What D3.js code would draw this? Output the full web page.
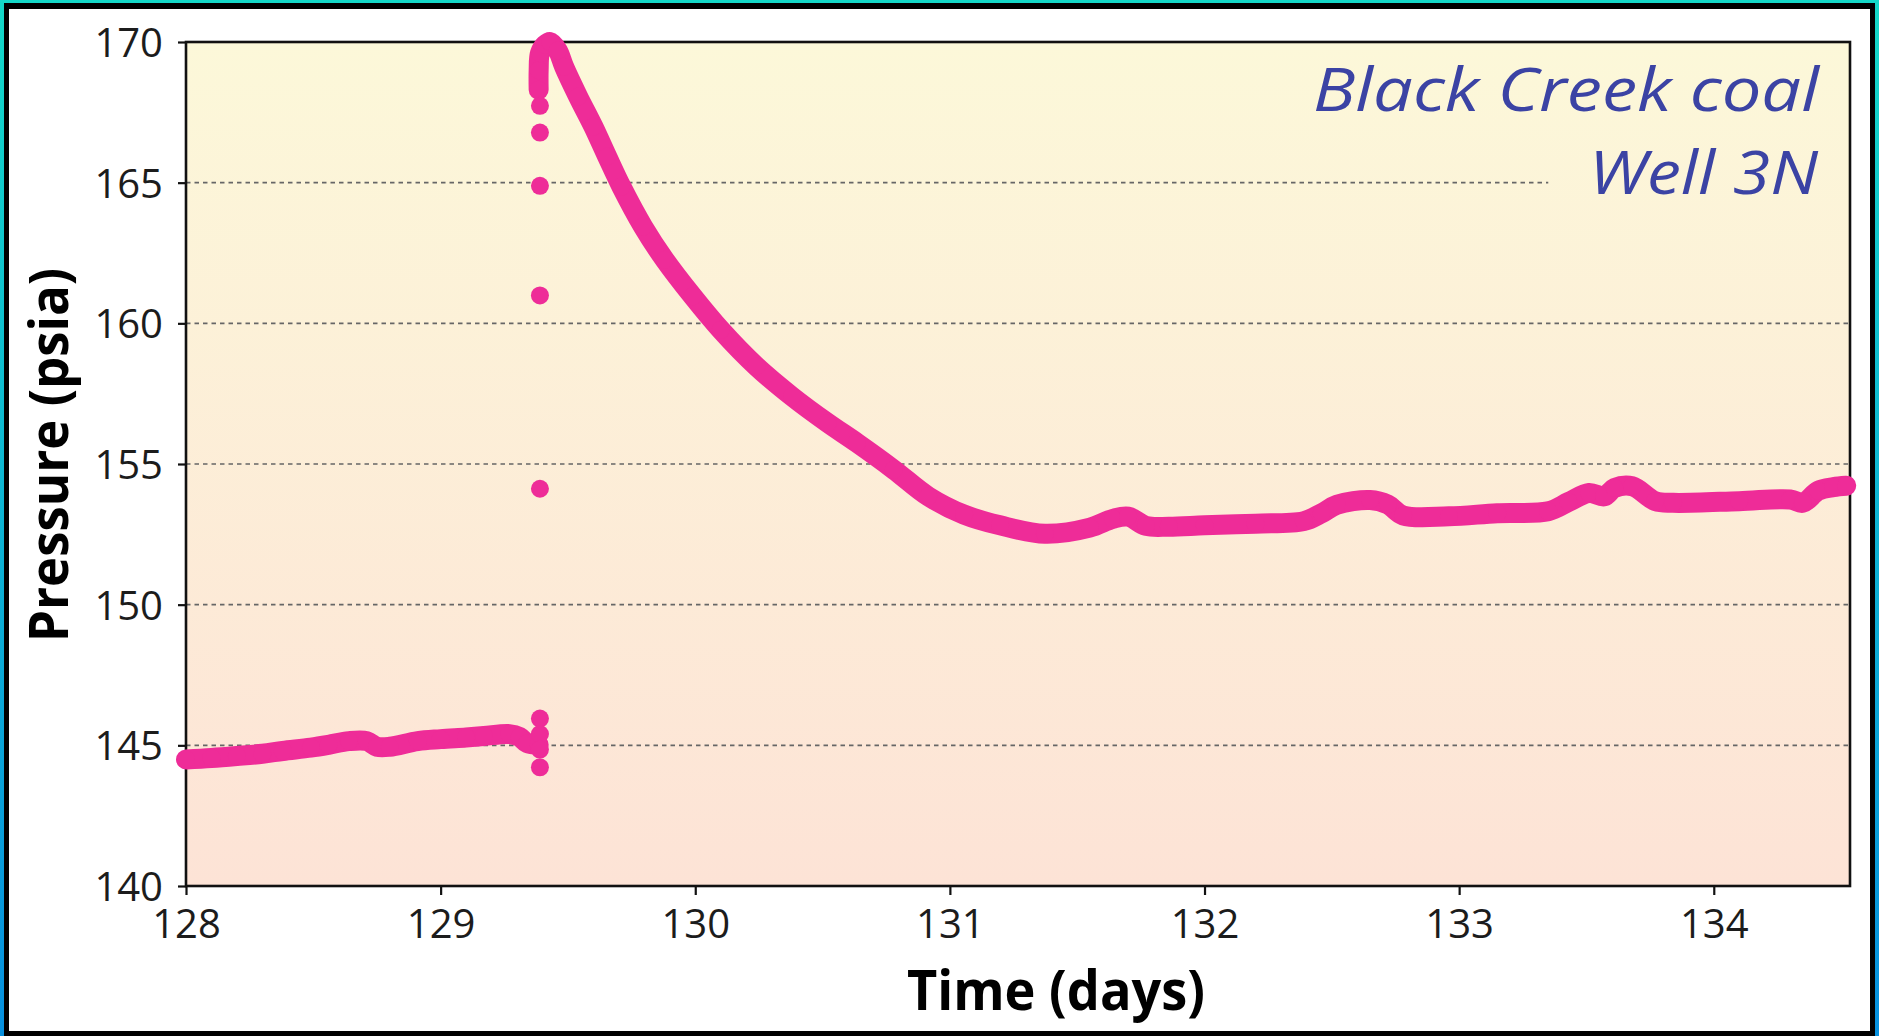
<!DOCTYPE html>
<html>
<head>
<meta charset="utf-8">
<script src="https://cdn.jsdelivr.net/npm/d3@7"></script>
<style>
  html, body { margin: 0; padding: 0; overflow: hidden; background: #fff; }
  svg { display: block; }
</style>
</head>
<body>
<svg id="chart" width="1879" height="1036"></svg>
<script>
// ---------------- DATA ----------------
const xTicks = [128, 129, 130, 131, 132, 133, 134];
const yTicks = [140, 145, 150, 155, 160, 165, 170];
const gridValues = [145, 150, 155, 160, 165];

// before the shut-in jump
const preTime     = [128.00, 128.10, 128.20, 128.30, 128.38, 128.49, 128.56, 128.64, 128.71, 128.75, 128.80, 128.91, 129.00, 129.10, 129.17, 129.27, 129.31, 129.34, 129.385];
const prePressure = [144.50, 144.55, 144.62, 144.70, 144.80, 144.92, 145.02, 145.15, 145.15, 144.95, 144.95, 145.15, 145.22, 145.28, 145.33, 145.40, 145.30, 145.08, 145.02];

// isolated readings during the jump
const jumpTime     = [129.39, 129.39, 129.39, 129.39, 129.39, 129.39, 129.39, 129.39, 129.39];
const jumpPressure = [145.95, 145.40, 144.85, 144.22, 154.12, 160.99, 164.89, 166.78, 167.73];

// build-up and falloff
const postTime     = [129.385, 129.385, 129.39, 129.41, 129.43, 129.46, 129.485, 129.54, 129.60, 129.654, 129.71, 129.795, 129.88, 129.99, 130.10, 130.24, 130.38, 130.52, 130.635, 130.78, 130.915, 131.056, 131.197, 131.373, 131.55, 131.64, 131.70, 131.77, 131.86, 132.00, 132.20, 132.39, 132.46, 132.52, 132.65, 132.72, 132.78, 132.96, 133.15, 133.35, 133.43, 133.51, 133.57, 133.61, 133.68, 133.77, 133.84, 134.10, 134.30, 134.35, 134.41, 134.47, 134.52];
const postPressure = [168.30, 169.00, 169.60, 169.90, 170.00, 169.70, 169.12, 168.06, 166.99, 165.93, 164.86, 163.44, 162.26, 160.96, 159.77, 158.47, 157.40, 156.46, 155.75, 154.80, 153.85, 153.20, 152.82, 152.52, 152.74, 153.05, 153.13, 152.80, 152.77, 152.82, 152.88, 152.97, 153.25, 153.55, 153.72, 153.56, 153.17, 153.14, 153.25, 153.32, 153.65, 153.97, 153.85, 154.15, 154.21, 153.68, 153.62, 153.68, 153.74, 153.62, 154.05, 154.18, 154.23];

const annotationLines = ["Black Creek coal", "Well 3N"];
const xTitle = "Time (days)";
const yTitle = "Pressure (psia)";

// ---------------- LAYOUT ----------------
const W = 1879, H = 1036;
const plot = { left: 186, right: 1850, top: 42, bottom: 886 };
const pink = "#ee2c98";
const svg = d3.select("#chart");
const defs = svg.append("defs");

const frameGrad = defs.append("linearGradient").attr("id", "frameGrad")
  .attr("x1", 0).attr("y1", 0).attr("x2", 0).attr("y2", 1);
frameGrad.append("stop").attr("offset", "0%").attr("stop-color", "#14d8c8");
frameGrad.append("stop").attr("offset", "100%").attr("stop-color", "#0790de");

const bgGrad = defs.append("linearGradient").attr("id", "bgGrad")
  .attr("x1", 0).attr("y1", 0).attr("x2", 0).attr("y2", 1);
bgGrad.append("stop").attr("offset", "0%").attr("stop-color", "#fcf8d9");
bgGrad.append("stop").attr("offset", "100%").attr("stop-color", "#fde3d6");

// outer frame
svg.append("rect").attr("x", 0).attr("y", 0).attr("width", W).attr("height", H).attr("fill", "url(#frameGrad)");
svg.append("rect").attr("x", 4).attr("y", 3).attr("width", 1871).attr("height", 1033).attr("fill", "#000");
svg.append("rect").attr("x", 9).attr("y", 9).attr("width", 1861).attr("height", 1022).attr("fill", "#fff");

// scales
const x = d3.scaleLinear().domain([128, 134.535]).range([plot.left, plot.right]);
const y = d3.scaleLinear().domain([140, 170]).range([plot.bottom, plot.top]);

// plot background
svg.append("rect")
  .attr("x", plot.left).attr("y", plot.top)
  .attr("width", plot.right - plot.left).attr("height", plot.bottom - plot.top)
  .attr("fill", "url(#bgGrad)");

// grid lines
svg.append("g").selectAll("line").data(gridValues).join("line")
  .attr("x1", plot.left)
  .attr("x2", d => d === 165 ? x(133.35) : plot.right)
  .attr("y1", d => y(d)).attr("y2", d => y(d))
  .attr("stroke", "#666").attr("stroke-width", 1.6)
  .attr("stroke-dasharray", "4.5,4");

// axes
const fontTick = "'Open Sans', 'Noto Sans', sans-serif";
const yAxis = svg.append("g").attr("transform", `translate(${plot.left},0)`)
  .call(d3.axisLeft(y).tickValues(yTicks).tickSize(8).tickPadding(15).tickFormat(d3.format("d")));
const xAxis = svg.append("g").attr("transform", `translate(0,${plot.bottom})`)
  .call(d3.axisBottom(x).tickValues(xTicks).tickSize(9).tickPadding(12).tickFormat(d3.format("d")));
[yAxis, xAxis].forEach(a => {
  a.select(".domain").remove();
  a.selectAll(".tick line").attr("stroke", "#111").attr("stroke-width", 2.2);
  a.selectAll(".tick text").attr("fill", "#1c1c1c")
    .style("font-family", fontTick).style("font-size", "40px");
});
yAxis.selectAll(".tick text").attr("dy", "0.36em");
xAxis.selectAll(".tick text").attr("y", 0).attr("dy", 0).attr("transform", "translate(0,52)");

// frame box
svg.append("rect")
  .attr("x", plot.left).attr("y", plot.top)
  .attr("width", plot.right - plot.left).attr("height", plot.bottom - plot.top)
  .attr("fill", "none").attr("stroke", "#111").attr("stroke-width", 2.6);

// data
const pre = preTime.map((t, i) => [t, prePressure[i]]);
const post = postTime.map((t, i) => [t, postPressure[i]]);
const jump = jumpTime.map((t, i) => [t, jumpPressure[i]]);
const line = d3.line().x(d => x(d[0])).y(d => y(d[1])).curve(d3.curveCatmullRom.alpha(0.5));

const dataG = svg.append("g");
[pre, post].forEach(seg => {
  dataG.append("path").datum(seg).attr("d", line)
    .attr("fill", "none").attr("stroke", pink).attr("stroke-width", 20)
    .attr("stroke-linecap", "round").attr("stroke-linejoin", "round");
});
dataG.selectAll("circle.pt").data(pre.concat(post, jump)).join("circle")
  .attr("class", "pt")
  .attr("cx", d => x(d[0])).attr("cy", d => y(d[1])).attr("r", 9)
  .attr("fill", pink);

// annotation
const annot = svg.append("g").attr("fill", "#3b43a4")
  .style("font-family", "'Open Sans', 'Noto Sans', sans-serif")
  .style("font-style", "italic").style("font-size", "61px");
annot.append("text").attr("x", 1313).attr("y", 111)
  .attr("textLength", 506).attr("lengthAdjust", "spacingAndGlyphs").text(annotationLines[0]);
annot.append("text").attr("x", 1589).attr("y", 194)
  .attr("textLength", 229).attr("lengthAdjust", "spacingAndGlyphs").text(annotationLines[1]);

// axis titles
svg.append("text").attr("x", 907).attr("y", 1010)
  .style("font-family", fontTick).style("font-weight", "bold").style("font-size", "55px")
  .attr("fill", "#000").attr("textLength", 298).attr("lengthAdjust", "spacingAndGlyphs")
  .text(xTitle);
svg.append("text").attr("transform", "translate(68,642) rotate(-90)")
  .style("font-family", fontTick).style("font-weight", "bold").style("font-size", "54px")
  .attr("fill", "#000").attr("textLength", 374).attr("lengthAdjust", "spacingAndGlyphs")
  .text(yTitle);
</script>
</body>
</html>
